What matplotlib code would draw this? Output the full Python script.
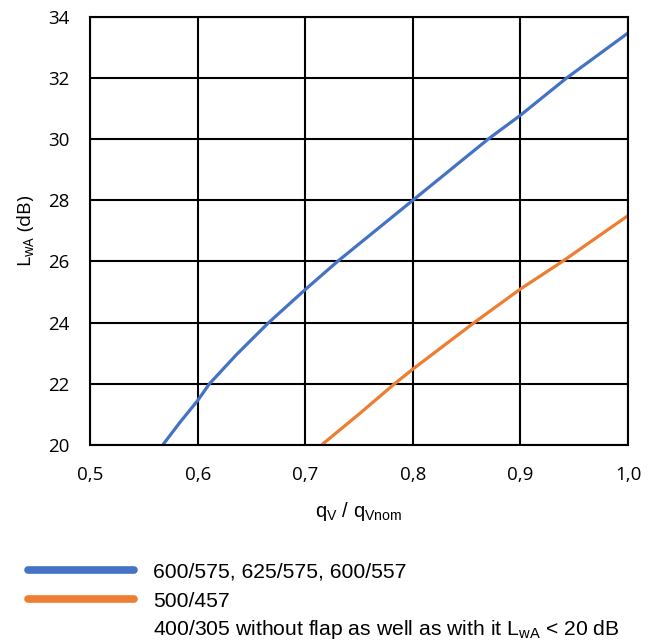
"""Sound power level vs. relative flow rate, two diffuser sizes."""
import matplotlib

matplotlib.use("Agg")
import matplotlib.pyplot as plt
from matplotlib.lines import Line2D
from matplotlib.ticker import FuncFormatter

# values
blue_x = [0.5676, 0.5836, 0.600, 0.611, 0.636, 0.666, 0.700, 0.730, 0.800, 0.870, 0.900, 0.943, 1.000]
blue_y = [20.0, 20.74, 21.45, 22.0, 22.95, 24.0, 25.08, 26.0, 28.0, 30.0, 30.78, 32.0, 33.47]
orange_x = [0.7152, 0.750, 0.783, 0.800, 0.857, 0.900, 0.939, 1.000]
orange_y = [20.0, 21.01, 22.0, 22.48, 24.0, 25.1, 26.0, 27.5]

labels = [
    "600/575, 625/575, 600/557",
    "500/457",
    r"400/305 without flap as well as with it L$_{\mathregular{wA}}$ < 20 dB",
]
x_ticks = [0.5, 0.6, 0.7, 0.8, 0.9, 1.0]
y_ticks = [20, 22, 24, 26, 28, 30, 32, 34]

BLUE = "#4472C4"
ORANGE = "#ED7D31"

fig = plt.figure(figsize=(6.57, 6.43), dpi=100)
ax = fig.add_axes([0.137, 0.308, 0.819, 0.666])

ax.plot(blue_x, blue_y, color=BLUE, linewidth=2.3, solid_capstyle="butt", solid_joinstyle="round")
ax.plot(orange_x, orange_y, color=ORANGE, linewidth=2.3, solid_capstyle="butt", solid_joinstyle="round")

ax.set_xlim(0.5, 1.0)
ax.set_ylim(20, 34)
ax.set_xticks(x_ticks)
ax.set_yticks(y_ticks)
ax.xaxis.set_major_formatter(FuncFormatter(lambda v, _: f"{v:.1f}".replace(".", ",")))
ax.grid(True, color="black", linewidth=1.5)
ax.set_axisbelow(True)
for sp in ax.spines.values():
    sp.set_color("black")
    sp.set_linewidth(1.5)
ax.tick_params(length=0, labelsize=13.5)
ax.tick_params(axis="x", pad=15)
ax.tick_params(axis="y", pad=15)
for t in ax.get_xticklabels() + ax.get_yticklabels():
    t.set_fontfamily("Open Sans")

ax.set_ylabel(r"L$_{\mathregular{wA}}$ (dB)", fontsize=14, family="Open Sans", labelpad=8)
ax.set_xlabel(r"q$_{\mathregular{V}}$ / q$_{\mathregular{Vnom}}$", fontsize=14.5,
              family="Liberation Sans", labelpad=12)

# legend rows, placed by hand below the plot
rows_y = [571, 600, 628]
colors = [BLUE, ORANGE, None]
H = 643.0
for ypx, col, lab in zip(rows_y, colors, labels):
    yf = 1 - ypx / H
    if col is not None:
        fig.add_artist(Line2D([0.042, 0.204], [yf + 0.001, yf + 0.001], color=col, linewidth=5.5,
                              solid_capstyle="round", transform=fig.transFigure))
    fig.text(0.233, 1 - (ypx + 7.0) / H, lab, va="baseline", ha="left",
             family="Liberation Sans", fontsize=15.2)

fig.savefig("out.png", dpi=100)
